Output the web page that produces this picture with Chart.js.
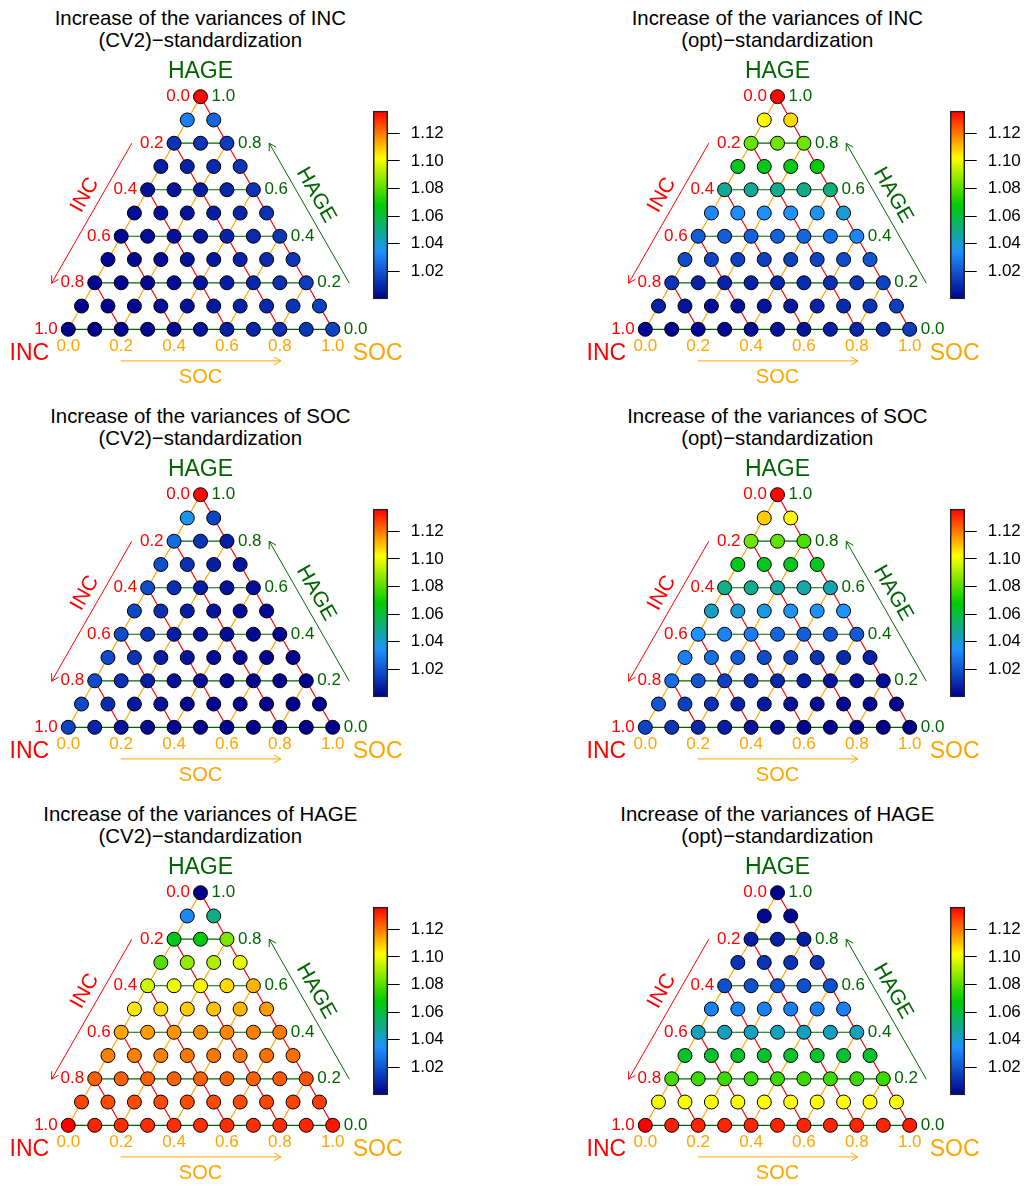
<!DOCTYPE html>
<html>
<head>
<meta charset="utf-8">
<script src="https://cdn.jsdelivr.net/npm/chart.js@4.4.1/dist/chart.umd.min.js"></script>
<style>
  body { margin: 0; background: #fff; }
  #painel { position: relative; width: 1025px; height: 1186px; overflow: hidden; }
  #painel canvas { position: absolute; }
  .titulo { position: absolute; width: 460px; text-align: center; color: #000;
            font-family: "Liberation Sans", Arial, sans-serif; font-size: 20.4px; line-height: 22px; }
</style>
</head>
<body>
<div id="painel"></div>
<script>
// Valores por linha (HAGE = 0.0 embaixo ... 1.0 no topo), da esquerda (SOC = 0) para a direita
const incCV2 = [
  [1.000, 1.000, 1.001, 1.002, 1.003, 1.005, 1.007, 1.009, 1.011, 1.013, 1.016],
  [1.000, 1.001, 1.002, 1.003, 1.004, 1.006, 1.008, 1.010, 1.012, 1.015],
  [1.001, 1.001, 1.002, 1.003, 1.005, 1.007, 1.009, 1.011, 1.014],
  [1.002, 1.002, 1.003, 1.004, 1.006, 1.008, 1.010, 1.013],
  [1.002, 1.003, 1.004, 1.006, 1.008, 1.010, 1.013],
  [1.003, 1.004, 1.005, 1.007, 1.009, 1.012],
  [1.004, 1.005, 1.007, 1.009, 1.012],
  [1.007, 1.008, 1.010, 1.013],
  [1.012, 1.012, 1.014],
  [1.030, 1.024],
  [1.135]
];
const incOpt = [
  [1.002, 1.001, 1.001, 1.002, 1.003, 1.004, 1.005, 1.007, 1.009, 1.011, 1.014],
  [1.008, 1.005, 1.003, 1.004, 1.005, 1.006, 1.008, 1.010, 1.012, 1.015],
  [1.012, 1.008, 1.008, 1.008, 1.009, 1.010, 1.011, 1.013, 1.016],
  [1.018, 1.016, 1.015, 1.015, 1.015, 1.016, 1.018, 1.020],
  [1.022, 1.022, 1.023, 1.023, 1.024, 1.027, 1.032],
  [1.032, 1.033, 1.034, 1.034, 1.036, 1.040],
  [1.048, 1.048, 1.049, 1.050, 1.052],
  [1.064, 1.065, 1.065, 1.067],
  [1.082, 1.083, 1.083],
  [1.103, 1.107],
  [1.135]
];
const socCV2 = [
  [1.016, 1.009, 1.005, 1.003, 1.002, 1.001, 1.001, 1.000, 1.000, 1.000, 1.000],
  [1.017, 1.010, 1.006, 1.004, 1.002, 1.001, 1.001, 1.000, 1.000, 1.000],
  [1.018, 1.011, 1.007, 1.004, 1.003, 1.002, 1.001, 1.000, 1.000],
  [1.018, 1.012, 1.007, 1.005, 1.003, 1.002, 1.001, 1.001],
  [1.018, 1.012, 1.007, 1.005, 1.003, 1.002, 1.001],
  [1.017, 1.011, 1.007, 1.005, 1.003, 1.002],
  [1.018, 1.011, 1.007, 1.005, 1.003],
  [1.019, 1.011, 1.007, 1.005],
  [1.025, 1.012, 1.007],
  [1.037, 1.016],
  [1.135]
];
const socOpt = [
  [1.016, 1.012, 1.009, 1.007, 1.005, 1.003, 1.002, 1.001, 1.000, 1.000, 1.000],
  [1.020, 1.015, 1.011, 1.008, 1.006, 1.004, 1.003, 1.002, 1.001, 1.001],
  [1.026, 1.020, 1.015, 1.012, 1.009, 1.007, 1.005, 1.004, 1.003],
  [1.030, 1.026, 1.022, 1.018, 1.015, 1.012, 1.010, 1.008],
  [1.034, 1.031, 1.029, 1.024, 1.022, 1.020, 1.021],
  [1.042, 1.040, 1.038, 1.036, 1.035, 1.035],
  [1.050, 1.049, 1.047, 1.046, 1.045],
  [1.065, 1.064, 1.064, 1.064],
  [1.083, 1.081, 1.078],
  [1.109, 1.103],
  [1.135]
];
const hageCV2 = [
  [1.136, 1.131, 1.130, 1.130, 1.130, 1.130, 1.130, 1.130, 1.130, 1.131, 1.133],
  [1.127, 1.126, 1.126, 1.126, 1.126, 1.126, 1.126, 1.127, 1.127, 1.128],
  [1.123, 1.123, 1.123, 1.123, 1.123, 1.123, 1.123, 1.124, 1.125],
  [1.119, 1.119, 1.119, 1.120, 1.120, 1.120, 1.121, 1.121],
  [1.114, 1.115, 1.116, 1.117, 1.118, 1.119, 1.120],
  [1.105, 1.107, 1.109, 1.110, 1.112, 1.115],
  [1.096, 1.099, 1.103, 1.107, 1.112],
  [1.079, 1.088, 1.091, 1.099],
  [1.064, 1.066, 1.085],
  [1.032, 1.050],
  [1.000]
];
const hageOpt = [
  [1.136, 1.132, 1.131, 1.131, 1.131, 1.131, 1.131, 1.131, 1.131, 1.131, 1.132],
  [1.100, 1.101, 1.102, 1.102, 1.102, 1.102, 1.102, 1.102, 1.102, 1.101],
  [1.077, 1.076, 1.076, 1.076, 1.076, 1.076, 1.076, 1.076, 1.076],
  [1.062, 1.062, 1.062, 1.062, 1.062, 1.062, 1.062, 1.062],
  [1.043, 1.043, 1.043, 1.043, 1.043, 1.043, 1.043],
  [1.030, 1.030, 1.030, 1.030, 1.030, 1.030],
  [1.019, 1.019, 1.019, 1.019, 1.019],
  [1.012, 1.012, 1.012, 1.012],
  [1.007, 1.007, 1.007],
  [1.002, 1.002],
  [1.000]
];

const variaveis = ["INC", "SOC", "HAGE"];
const metodos = ["CV2", "opt"];
const valoresPainel = [[incCV2, incOpt], [socCV2, socOpt], [hageCV2, hageOpt]];
const rotulosEixo = ["0.0", "0.2", "0.4", "0.6", "0.8", "1.0"];
const ticksCor = [1.02, 1.04, 1.06, 1.08, 1.10, 1.12];
const escalaMin = 1.000, escalaMax = 1.136;
const paleta = ["#00008B", "#1E90FF", "#00CD00", "#FFFF00", "#FF0000"];

const FONTE = '"Liberation Sans", Arial, sans-serif';
const VERMELHO = "#FF0000", LARANJA = "#FFA500", VERDE = "#006400";

// cor de um valor pela mesma paleta da barra
function hexRgb(h) { return [1, 3, 5].map(i => parseInt(h.substr(i, 2), 16)); }
function corValor(v) {
  let t = (v - escalaMin) / (escalaMax - escalaMin);
  t = Math.max(0, Math.min(1, t)) * (paleta.length - 1);
  const i = Math.min(Math.floor(t), paleta.length - 2), f = t - i;
  const a = hexRgb(paleta[i]), b = hexRgb(paleta[i + 1]);
  const c = a.map((x, k) => Math.round(x + (b[k] - x) * f));
  return `rgb(${c[0]},${c[1]},${c[2]})`;
}

// pontos da grade ternária: x = SOC + HAGE/2, y = HAGE
function pontos(linhas) {
  const out = [];
  linhas.forEach((linha, k) => {
    const hage = k / (linhas.length - 1);
    linha.forEach((v, j) => {
      const soc = j / (linhas.length - 1);
      out.push({x: soc + hage / 2, y: hage, v: v});
    });
  });
  return out;
}

function linhaGrade(a, b, cor) {
  return { data: [a, b], showLine: true, borderColor: cor, borderWidth: 1.2,
           pointRadius: 0, pointHoverRadius: 0, clip: false, order: 1 };
}

function seta(ctx, x0, y0, x1, y1, cor) {
  const a = Math.atan2(y1 - y0, x1 - x0), L = 8, ab = Math.PI / 6;
  ctx.save();
  ctx.strokeStyle = cor; ctx.lineWidth = 1;
  ctx.beginPath();
  ctx.moveTo(x0, y0); ctx.lineTo(x1, y1);
  ctx.moveTo(x1 - L * Math.cos(a - ab), y1 - L * Math.sin(a - ab));
  ctx.lineTo(x1, y1);
  ctx.lineTo(x1 - L * Math.cos(a + ab), y1 - L * Math.sin(a + ab));
  ctx.stroke();
  ctx.restore();
}

function texto(ctx, txt, x, y, cor, tam, alinh, ang) {
  ctx.save();
  ctx.translate(x, y);
  if (ang) ctx.rotate(ang);
  ctx.fillStyle = cor;
  ctx.font = tam + "px " + FONTE;
  ctx.textAlign = alinh || "center";
  ctx.textBaseline = "middle";
  ctx.fillText(txt, 0, 0);
  ctx.restore();
}

// Eixos, rótulos e setas do triângulo
const rotulosTernario = {
  id: "rotulosTernario",
  afterDraw(chart) {
    const {ctx, scales: {x, y}} = chart;
    const P = (sx, sy) => [x.getPixelForValue(sx), y.getPixelForValue(sy)];
    const [blx, bly] = P(0, 0), [brx, bry] = P(1, 0), [tx, ty] = P(0.5, 1);

    rotulosEixo.forEach((r, i) => {
      const val = i / (rotulosEixo.length - 1);
      // INC (lado esquerdo)
      const [ix, iy] = P((1 - val) / 2, 1 - val);
      texto(ctx, r, ix - 10.5, iy, VERMELHO, 17, "right");
      // HAGE (lado direito)
      const [hx, hy] = P(1 - val / 2, val);
      texto(ctx, r, hx + 11, hy, VERDE, 17, "left");
      // SOC (base)
      const [sx, sy] = P(val, 0);
      texto(ctx, r, sx, sy + 17, LARANJA, 17, "center");
    });

    texto(ctx, "HAGE", tx, ty - 25, VERDE, 23);
    texto(ctx, "INC", blx - 39, bly + 24, VERMELHO, 23);
    texto(ctx, "SOC", brx + 45, bry + 24, LARANJA, 23);

    const angEsq = Math.atan2(ty - bly, tx - blx);
    const angDir = Math.atan2(bry - ty, brx - tx);

    let a = P(0.240, 0.800), b = P(-0.063, 0.198);
    seta(ctx, a[0], a[1], b[0], b[1], VERMELHO);
    a = P(1.063, 0.198); b = P(0.760, 0.800);
    seta(ctx, a[0], a[1], b[0], b[1], VERDE);
    a = P(0.198, -0.136); b = P(0.804, -0.136);
    seta(ctx, a[0], a[1], b[0], b[1], LARANJA);

    let c = P(0.063, 0.577);
    texto(ctx, "INC", c[0], c[1], VERMELHO, 21, "center", angEsq);
    c = P(0.937, 0.577);
    texto(ctx, "HAGE", c[0], c[1], VERDE, 21, "center", angDir);
    c = P(0.5, -0.208);
    texto(ctx, "SOC", c[0], c[1], LARANJA, 20, "center");
  }
};

const painel = document.getElementById("painel");
function novoCanvas(left, top, w, h) {
  const cv = document.createElement("canvas");
  cv.width = w; cv.height = h;
  cv.style.left = left + "px"; cv.style.top = top + "px";
  cv.style.width = w + "px"; cv.style.height = h + "px";
  painel.appendChild(cv);
  return cv.getContext("2d");
}

const LARG = 420, ALT = 398;

variaveis.forEach((nome, lin) => {
  metodos.forEach((met, col) => {
    const ox = col * 577, oy = lin * ALT;

    const tit = document.createElement("div");
    tit.className = "titulo";
    tit.style.left = (ox + 200.3 - 230) + "px";
    tit.style.top = (oy + 7) + "px";
    tit.innerHTML = "Increase of the variances of " + nome + "<br>(" + met + ")\u2212standardization";
    painel.appendChild(tit);

    const pts = pontos(valoresPainel[lin][col]);
    const grade = [];
    for (let i = 0; i < 5; i++) {
      const v = i * 0.2;
      grade.push(linhaGrade({x: v / 2, y: v}, {x: 1 - v / 2, y: v}, VERDE));        // HAGE = v
      grade.push(linhaGrade({x: 1 - v, y: 0}, {x: (1 - v) / 2, y: 1 - v}, VERMELHO)); // INC = v
      grade.push(linhaGrade({x: v, y: 0}, {x: v + (1 - v) / 2, y: 1 - v}, LARANJA));  // SOC = v
    }

    new Chart(novoCanvas(ox, oy, LARG, ALT), {
      type: "scatter",
      data: {
        datasets: [{
          data: pts,
          pointRadius: 7, pointHoverRadius: 7,
          pointBackgroundColor: pts.map(p => corValor(p.v)),
          pointBorderColor: "#000", pointBorderWidth: 1,
          clip: false, order: 0
        }].concat(grade)
      },
      options: {
        responsive: false, animation: false, events: [],
        layout: { padding: { left: 68.3, right: LARG - 332.7, top: 96.7, bottom: ALT - 329.3 } },
        plugins: { legend: { display: false }, tooltip: { enabled: false } },
        scales: {
          x: { type: "linear", min: 0, max: 1, display: false },
          y: { type: "linear", min: 0, max: 1, display: false }
        }
      },
      plugins: [rotulosTernario]
    });

    // barra de cores
    new Chart(novoCanvas(ox + 360, oy + 90, 110, 230), {
      type: "bar",
      data: {
        labels: [""],
        datasets: [{
          data: [[escalaMin, escalaMax]],
          backgroundColor(c) {
            const {ctx, chartArea} = c.chart;
            if (!chartArea) return null;
            const g = ctx.createLinearGradient(0, chartArea.bottom, 0, chartArea.top);
            paleta.forEach((cor, i) => g.addColorStop(i / (paleta.length - 1), cor));
            return g;
          },
          borderColor: "#222", borderWidth: 1.5, borderSkipped: false,
          barPercentage: 1, categoryPercentage: 1, clip: false
        }]
      },
      options: {
        responsive: false, animation: false, events: [],
        layout: { padding: { left: 13.3, right: 0, top: 14, bottom: 20 } },
        plugins: { legend: { display: false }, tooltip: { enabled: false } },
        scales: {
          x: { display: false },
          y: {
            position: "right", min: escalaMin, max: escalaMax,
            afterBuildTicks(s) { s.ticks = ticksCor.map(v => ({value: v})); },
            afterFit(s) { s.width = 110 - 27.7; },
            grid: { drawOnChartArea: false, tickLength: 12, color: "#000", lineWidth: 1 },
            border: { display: false },
            ticks: { padding: 11, color: "#000", font: { family: FONTE, size: 17 },
                     callback: v => v.toFixed(2) }
          }
        }
      }
    });
  });
});
</script>
</body>
</html>
